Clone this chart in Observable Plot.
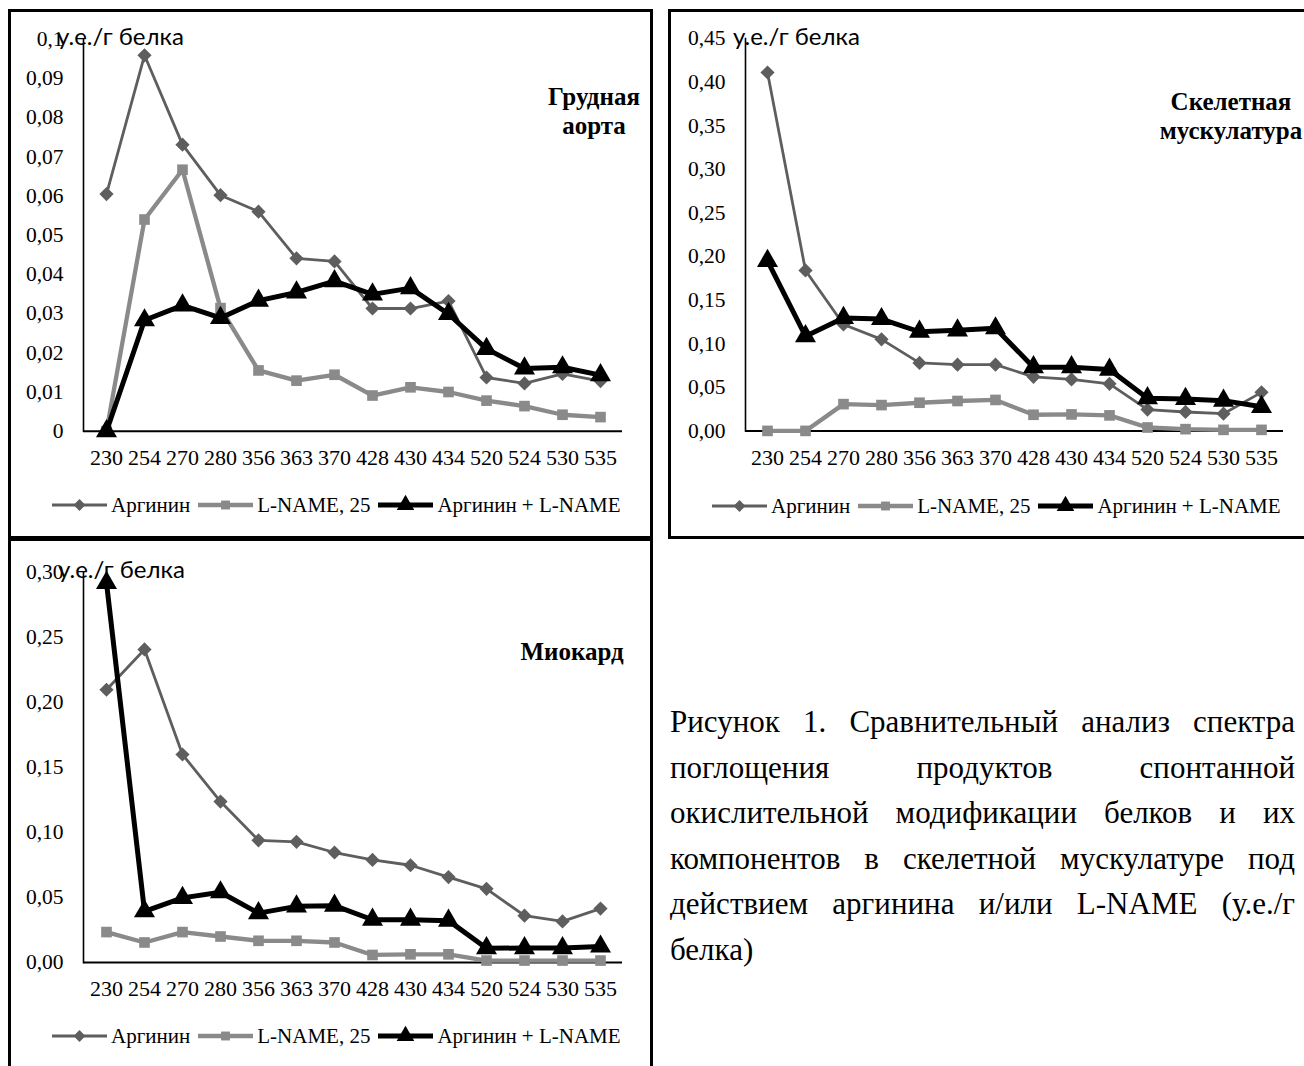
<!DOCTYPE html>
<html>
<head>
<meta charset="utf-8">
<script src="https://cdn.jsdelivr.net/npm/d3@7"></script>
<script src="https://cdn.jsdelivr.net/npm/@observablehq/plot@0.6"></script>
<style>
html, body { margin: 0; padding: 0; background: #fff; }
#page { position: relative; width: 1304px; height: 1066px; overflow: hidden; background: #fff; }
.box { position: absolute; border: 3.5px solid #000; box-sizing: border-box; }
.ylab { position: absolute; font-family: Lato, "Noto Sans", sans-serif; font-size: 24px; line-height: 24px; white-space: nowrap; color: #000; }
.title { position: absolute; width: 240px; text-align: center; font-family: "Liberation Serif", "Times New Roman", serif; font-weight: bold; font-size: 25px; line-height: 29px; color: #000; white-space: nowrap; }
.legend { position: absolute; display: flex; align-items: center; font-family: "Liberation Serif", "Times New Roman", serif; font-size: 21px; white-space: nowrap; color: #000; }
.legend .item { display: flex; align-items: center; margin-right: 8px; }
.legend svg { margin-right: 4px; }
.caption { position: absolute; left: 670px; top: 699px; width: 625px; font-family: "Liberation Serif", "Times New Roman", serif; font-size: 31px; line-height: 45.6px; color: #000; }
.caption .ln { text-align: justify; text-align-last: justify; white-space: nowrap; }
.caption .ln.last { text-align-last: left; }
</style>
</head>
<body>
<div id="page"></div>
<script>
// ---------- data ----------
const categories = ["230", "254", "270", "280", "356", "363", "370", "428", "430", "434", "520", "524", "530", "535"];
const seriesNames = ["Аргинин", "L-NAME, 25", "Аргинин + L-NAME"];

// Грудная аорта
const aortaArginine = [0.0605, 0.0959, 0.0731, 0.0602, 0.0560, 0.0441, 0.0433, 0.0313, 0.0313, 0.0332, 0.0137, 0.0122, 0.0146, 0.0128];
const aortaLName    = [0, 0.0540, 0.0667, 0.0314, 0.0155, 0.0129, 0.0144, 0.0091, 0.0112, 0.0100, 0.0078, 0.0064, 0.0042, 0.0036];
const aortaCombo    = [0, 0.0283, 0.0321, 0.0289, 0.0333, 0.0354, 0.0383, 0.0349, 0.0365, 0.0299, 0.0210, 0.0160, 0.0163, 0.0143];

// Скелетная мускулатура
const muscleArginine = [0.411, 0.184, 0.122, 0.105, 0.078, 0.076, 0.076, 0.062, 0.059, 0.054, 0.0245, 0.0217, 0.0197, 0.0442];
const muscleLName    = [0, 0, 0.0307, 0.0296, 0.0323, 0.0343, 0.0355, 0.0185, 0.0189, 0.0178, 0.0039, 0.0020, 0.0012, 0.0012];
const muscleCombo    = [0.195, 0.1086, 0.1295, 0.1283, 0.1137, 0.1153, 0.1177, 0.0730, 0.0730, 0.0703, 0.0375, 0.0367, 0.0347, 0.0276];

// Миокард
const myoArginine = [0.2098, 0.2408, 0.1600, 0.1238, 0.0940, 0.0928, 0.0846, 0.0789, 0.0748, 0.0657, 0.0567, 0.0360, 0.0316, 0.0415];
const myoLName    = [0.0234, 0.0154, 0.0234, 0.0200, 0.0167, 0.0167, 0.0154, 0.0058, 0.0063, 0.0063, 0.0015, 0.0015, 0.0015, 0.0015];
const myoCombo    = [0.292, 0.0394, 0.0497, 0.0540, 0.0380, 0.0432, 0.0437, 0.0329, 0.0329, 0.0322, 0.0110, 0.0111, 0.0111, 0.0123];

// y tick values and labels
const aortaTicks  = [0, 0.01, 0.02, 0.03, 0.04, 0.05, 0.06, 0.07, 0.08, 0.09, 0.1];
const aortaLabels = ["0", "0,01", "0,02", "0,03", "0,04", "0,05", "0,06", "0,07", "0,08", "0,09", "0,1"];
const muscleTicks  = [0, 0.05, 0.10, 0.15, 0.20, 0.25, 0.30, 0.35, 0.40, 0.45];
const muscleLabels = ["0,00", "0,05", "0,10", "0,15", "0,20", "0,25", "0,30", "0,35", "0,40", "0,45"];
const myoTicks  = [0, 0.05, 0.10, 0.15, 0.20, 0.25, 0.30];
const myoLabels = ["0,00", "0,05", "0,10", "0,15", "0,20", "0,25", "0,30"];

const yTitle = "у.е./г белка";
const captionLines = [
  "Рисунок 1. Сравнительный анализ спектра",
  "поглощения продуктов спонтанной",
  "окислительной модификации белков и их",
  "компонентов в скелетной мускулатуре под",
  "действием аргинина и/или L-NAME (у.е./г",
  "белка)"
];

// ---------- styles ----------
const seriesStyle = [
  {stroke: "#5e5e5e", strokeWidth: 2.8, symbol: "diamond2", r: 6.4},
  {stroke: "#8a8a8a", strokeWidth: 4.3, symbol: "square", r: 6.0},
  {stroke: "#000000", strokeWidth: 5, symbol: "triangle", r: 7.8}
];

const page = document.getElementById("page");
const serif = '"Liberation Serif", "Times New Roman", serif';

function box(l, t, w, h) {
  const d = document.createElement("div");
  d.className = "box";
  Object.assign(d.style, {left: l + "px", top: t + "px", width: w + "px", height: h + "px"});
  page.appendChild(d);
}

function makeChart(cfg) {
  const rows = [];
  cfg.series.forEach((vals, si) => {
    vals.forEach((v, i) => rows.push({cat: categories[i], v, s: seriesNames[si]}));
  });
  const marks = [
    Plot.frame({anchor: "left", stroke: "#000", strokeWidth: 1.6}),
    Plot.ruleY([0], {stroke: "#000", strokeWidth: 2})
  ];
  seriesNames.forEach((name, si) => {
    const st = seriesStyle[si];
    const d = rows.filter(r => r.s === name);
    marks.push(Plot.line(d, {x: "cat", y: "v", stroke: st.stroke, strokeWidth: st.strokeWidth, strokeLinejoin: "round"}));
    marks.push(Plot.dot(d, {x: "cat", y: "v", symbol: st.symbol, r: st.r, fill: st.stroke, stroke: "none"}));
  });
  marks.push(Plot.axisX({label: null, tickSize: 0, tickPadding: 18, fontSize: 22, fill: "#000"}));
  marks.push(Plot.axisY({label: null, ticks: cfg.ticks, tickFormat: d => cfg.labels[cfg.ticks.indexOf(d)], tickSize: 0, tickPadding: 20, fontSize: 21.5, fill: "#000"}));

  const svg = Plot.plot({
    width: cfg.width,
    height: cfg.height,
    marginLeft: cfg.ml, marginRight: cfg.mr, marginTop: cfg.mt, marginBottom: cfg.mb,
    style: {fontFamily: serif, fontSize: "22px", background: "transparent", color: "#000", overflow: "visible"},
    x: {type: "point", domain: categories, padding: 0.5, axis: null, label: null},
    y: {domain: cfg.domain, axis: null, label: null},
    marks
  });
  svg.style.position = "absolute";
  svg.style.left = cfg.left + "px";
  svg.style.top = cfg.top + "px";
  page.appendChild(svg);
}

function ylabel(l, cy) {
  const d = document.createElement("div");
  d.className = "ylab";
  d.textContent = yTitle;
  d.style.left = l + "px";
  d.style.top = (cy - 13) + "px";
  page.appendChild(d);
}

function title(lines, cx, cy) {
  const d = document.createElement("div");
  d.className = "title";
  d.innerHTML = lines.join("<br>");
  d.style.left = (cx - 120) + "px";
  d.style.top = (cy - 15) + "px";
  page.appendChild(d);
}

function legend(left, cy) {
  const d = document.createElement("div");
  d.className = "legend";
  d.style.left = left + "px";
  d.style.top = (cy - 12) + "px";
  d.style.height = "24px";
  seriesNames.forEach((name, si) => {
    const st = seriesStyle[si];
    const it = document.createElement("div");
    it.className = "item";
    const w = 55, h = 22;
    const sym = {diamond2: d3.symbolDiamond2, square: d3.symbolSquare, triangle: d3.symbolTriangle}[st.symbol];
    const path = d3.symbol(sym, Math.PI * st.r * st.r * 0.7)();
    it.innerHTML = `<svg width="${w}" height="${h}"><line x1="0" x2="${w}" y1="${h/2}" y2="${h/2}" stroke="${st.stroke}" stroke-width="${st.strokeWidth}"/><path d="${path}" transform="translate(${w/2},${h/2})" fill="${st.stroke}"/></svg><span>${name}</span>`;
    d.appendChild(it);
  });
  page.appendChild(d);
}

// ---------- panel frames ----------
box(8, 9, 645, 530);     // Грудная аорта
box(668, 9, 650, 530);   // Скелетная мускулатура
box(8, 538, 645, 540);   // Миокард

// ---------- charts ----------
makeChart({left: 0, top: 0, width: 650, height: 480, ml: 83, mr: 28, mt: 38.7, mb: 49.3,
  domain: [0, 0.1], ticks: aortaTicks, labels: aortaLabels, series: [aortaArginine, aortaLName, aortaCombo]});
makeChart({left: 650, top: 0, width: 654, height: 480, ml: 95, mr: 21, mt: 38, mb: 49.6,
  domain: [0, 0.45], ticks: muscleTicks, labels: muscleLabels, series: [muscleArginine, muscleLName, muscleCombo]});
makeChart({left: 0, top: 540, width: 650, height: 480, ml: 83, mr: 28, mt: 32, mb: 58,
  domain: [0, 0.3], ticks: myoTicks, labels: myoLabels, series: [myoArginine, myoLName, myoCombo]});

ylabel(57, 37);
ylabel(733, 37);
ylabel(58, 570);

title(["Грудная", "аорта"], 594, 97);
title(["Скелетная", "мускулатура"], 1231, 102);
title(["Миокард"], 572, 652);

legend(52, 505);
legend(712, 506);
legend(52, 1036);

// caption
const cap = document.createElement("div");
cap.className = "caption";
captionLines.forEach((t, i) => {
  const ln = document.createElement("div");
  ln.className = "ln" + (i === captionLines.length - 1 ? " last" : "");
  ln.textContent = t;
  cap.appendChild(ln);
});
page.appendChild(cap);
</script>
</body>
</html>
